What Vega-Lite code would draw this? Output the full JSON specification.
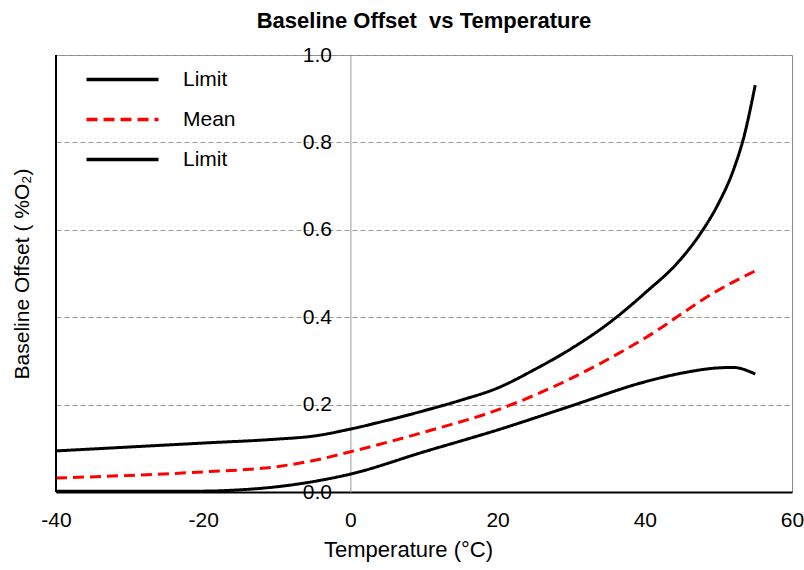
{
  "$schema": "https://vega.github.io/schema/vega-lite/v6.json",
  "autosize": "none",
  "width": 736,
  "height": 437,
  "padding": {"left": 56, "top": 55, "right": 12, "bottom": 78},
  "background": "white",
  "config": {
    "font": "Liberation Sans",
    "view": {"stroke": "#888888", "strokeWidth": 1},
    "axis": {"labelFont": "Liberation Sans", "titleFont": "Liberation Sans", "labelColor": "black", "titleColor": "black", "labelFontSize": 21, "titleFontSize": 21, "titleFontWeight": "normal"}
  },
  "title": {"text": "Baseline Offset\u00a0 vs Temperature", "fontSize": 22, "fontWeight": "bold", "font": "Liberation Sans", "frame": "group", "anchor": "middle", "offset": 11, "color": "black"},
  "data": {"values": [
    {"T": -40, "v": 0.094, "s": "Upper"},
    {"T": -30, "v": 0.103, "s": "Upper"},
    {"T": -20, "v": 0.112, "s": "Upper"},
    {"T": -10, "v": 0.121, "s": "Upper"},
    {"T": -5, "v": 0.128, "s": "Upper"},
    {"T": 0, "v": 0.144, "s": "Upper"},
    {"T": 5, "v": 0.164, "s": "Upper"},
    {"T": 10, "v": 0.186, "s": "Upper"},
    {"T": 15, "v": 0.21, "s": "Upper"},
    {"T": 20, "v": 0.238, "s": "Upper"},
    {"T": 25, "v": 0.28, "s": "Upper"},
    {"T": 30, "v": 0.328, "s": "Upper"},
    {"T": 35, "v": 0.385, "s": "Upper"},
    {"T": 40, "v": 0.455, "s": "Upper"},
    {"T": 45, "v": 0.535, "s": "Upper"},
    {"T": 47.5, "v": 0.59, "s": "Upper"},
    {"T": 50, "v": 0.66, "s": "Upper"},
    {"T": 52, "v": 0.735, "s": "Upper"},
    {"T": 53.5, "v": 0.815, "s": "Upper"},
    {"T": 55, "v": 0.931, "s": "Upper"},
    {"T": -40, "v": 0.032, "s": "Mean"},
    {"T": -30, "v": 0.038, "s": "Mean"},
    {"T": -20, "v": 0.046, "s": "Mean"},
    {"T": -10, "v": 0.058, "s": "Mean"},
    {"T": -5, "v": 0.072, "s": "Mean"},
    {"T": 0, "v": 0.092, "s": "Mean"},
    {"T": 10, "v": 0.137, "s": "Mean"},
    {"T": 20, "v": 0.188, "s": "Mean"},
    {"T": 30, "v": 0.26, "s": "Mean"},
    {"T": 40, "v": 0.352, "s": "Mean"},
    {"T": 50, "v": 0.462, "s": "Mean"},
    {"T": 55, "v": 0.506, "s": "Mean"},
    {"T": -40, "v": 0.002, "s": "Lower"},
    {"T": -30, "v": 0.002, "s": "Lower"},
    {"T": -20, "v": 0.002, "s": "Lower"},
    {"T": -15, "v": 0.005, "s": "Lower"},
    {"T": -10, "v": 0.012, "s": "Lower"},
    {"T": -5, "v": 0.024, "s": "Lower"},
    {"T": 0, "v": 0.041, "s": "Lower"},
    {"T": 10, "v": 0.092, "s": "Lower"},
    {"T": 20, "v": 0.142, "s": "Lower"},
    {"T": 30, "v": 0.197, "s": "Lower"},
    {"T": 40, "v": 0.252, "s": "Lower"},
    {"T": 45, "v": 0.272, "s": "Lower"},
    {"T": 50, "v": 0.284, "s": "Lower"},
    {"T": 52, "v": 0.285, "s": "Lower"},
    {"T": 55, "v": 0.27, "s": "Lower"}
  ]},
  "layer": [
    {
      "mark": {"type": "line", "strokeWidth": 3, "interpolate": "monotone"},
      "encoding": {
        "x": {"field": "T", "type": "quantitative", "scale": {"domain": [-40, 60], "nice": false, "zero": false},
          "axis": {"values": [-40, -20, 0, 20, 40, 60], "labelExpr": "replace(datum.label, '\u2212', '-')", "title": "Temperature (°C)", "titleFontSize": 22, "titleX": 352, "titleAlign": "center", "grid": false, "ticks": false, "domainColor": "black", "domainWidth": 2, "labelPadding": 17, "titlePadding": 9, "labelFlush": false}},
        "y": {"field": "v", "type": "quantitative", "scale": {"domain": [0, 1], "nice": false},
          "axis": {"values": [0, 0.2, 0.4, 0.6, 0.8, 1.0], "format": ".1f", "title": "Baseline Offset ( %O₂)", "offset": -294.4, "ticks": false, "labelPadding": 19, "domainColor": "#999999", "domainWidth": 1, "grid": true, "gridColor": "#999999", "gridDash": [5, 3], "gridWidth": 1, "gridOpacity": 1, "titleX": -328, "titleBaseline": "middle", "labelFlush": false}},
        "color": {"field": "s", "type": "nominal", "scale": {"domain": ["Upper", "Mean", "Lower"], "range": ["black", "#ff0000", "black"]},
          "legend": {"title": null, "orient": "none", "legendX": 56, "legendY": 14, "padding": 0, "symbolType": "M-8,0H8", "symbolSize": 81, "symbolStrokeWidth": 3.5, "labelFontSize": 21, "labelFont": "Liberation Sans", "labelColor": "black", "labelOffset": 50, "rowPadding": 18, "labelExpr": "datum.label == 'Mean' ? 'Mean' : 'Limit'"}},
        "strokeDash": {"field": "s", "type": "nominal", "scale": {"domain": ["Upper", "Mean", "Lower"], "range": [[1, 0], [11, 6], [1, 0]]},
          "legend": {"title": null, "orient": "none", "legendX": 56, "legendY": 14, "padding": 0, "symbolType": "M-8,0H8", "symbolSize": 81, "symbolStrokeWidth": 3.5, "labelFontSize": 21, "labelFont": "Liberation Sans", "labelColor": "black", "labelOffset": 50, "rowPadding": 18, "labelExpr": "datum.label == 'Mean' ? 'Mean' : 'Limit'"}}
      }
    },
    {
      "mark": {"type": "rule", "color": "black", "strokeWidth": 2},
      "encoding": {"x": {"datum": -40}}
    }
  ]
}
